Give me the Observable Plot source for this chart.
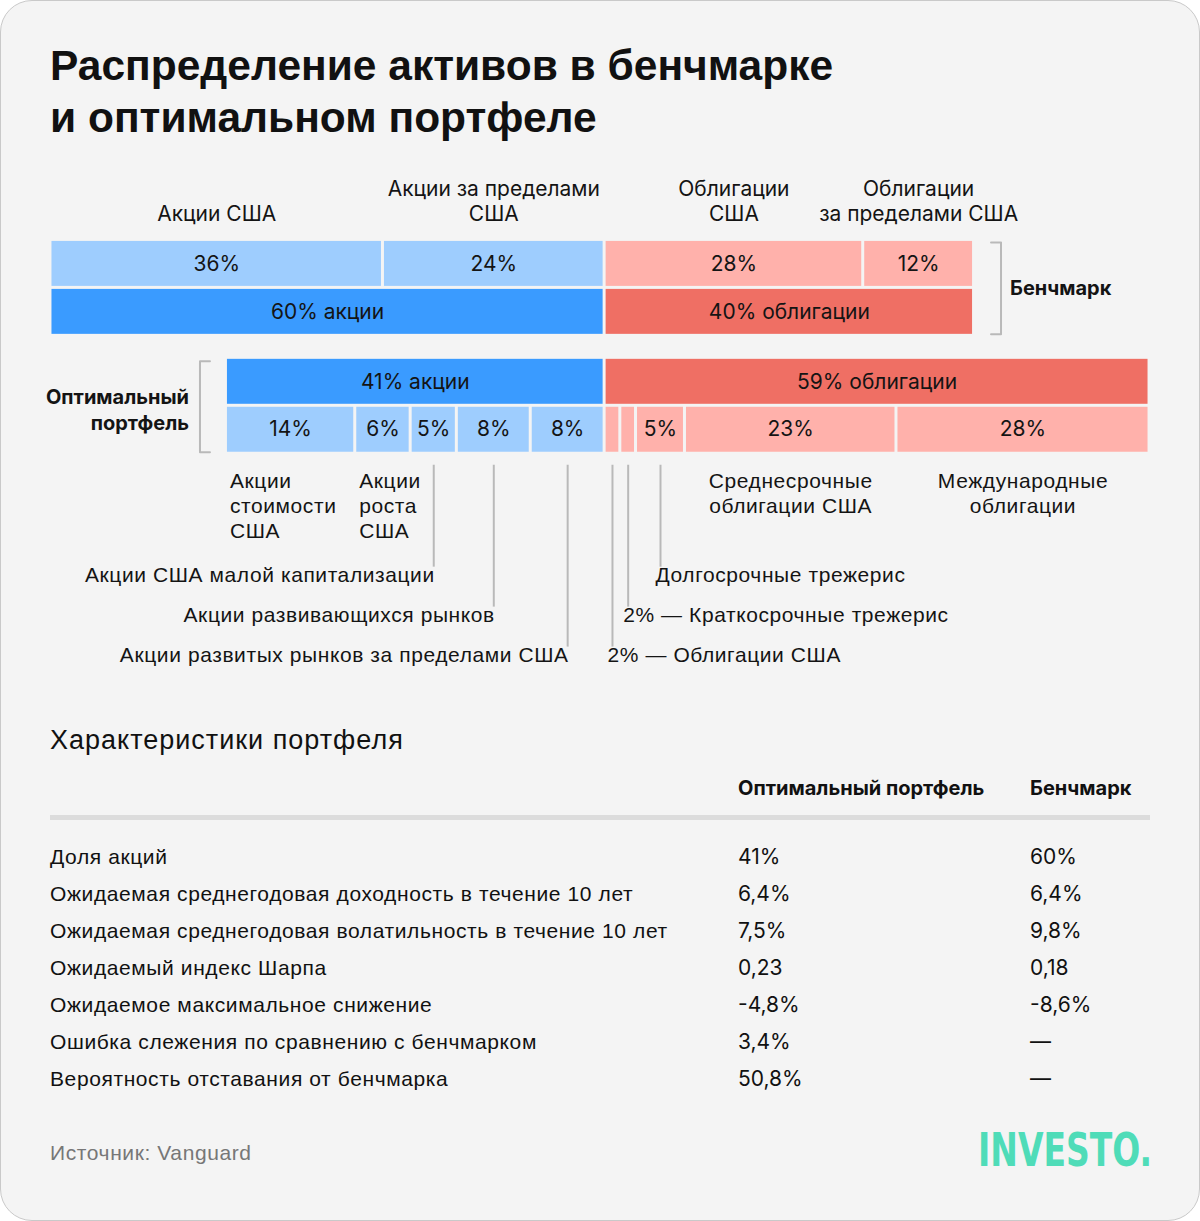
<!DOCTYPE html>
<html><head><meta charset="utf-8">
<script src="https://cdn.jsdelivr.net/npm/d3@7"></script>
<script src="https://cdn.jsdelivr.net/npm/@observablehq/plot@0.6"></script>
<style>
body{margin:0;background:#fff;}
#card{position:relative;width:1200px;height:1221px;box-sizing:border-box;border:1px solid #c9c9c9;border-radius:32px;background:#f4f4f4;overflow:hidden;font-family:"Liberation Sans",Arial,sans-serif;color:#111;}
.abs{position:absolute;white-space:nowrap;}
#title{left:49px;top:39px;font-size:42.5px;line-height:52px;font-weight:700;}
#chart{position:absolute;left:-1px;top:159px;}
#subhead{left:49px;top:723px;font-size:27px;line-height:32px;letter-spacing:1px;}
.hdr{font-family:Inter,sans-serif;font-weight:700;font-size:20px;line-height:24px;}
.cell{font-size:21px;line-height:24px;letter-spacing:0.6px;}
.num{font-family:Inter,sans-serif;letter-spacing:0;}
#rule{position:absolute;left:49px;top:814px;width:1100px;height:5px;background:#dcdcdc;}
#source{left:49px;top:1140px;font-size:21px;line-height:24px;letter-spacing:0.6px;color:#777;}
#logo{position:absolute;left:974px;top:1120px;}
.ann text{letter-spacing:0.6px;}
</style>
</head><body>
<div id="card">
  <div id="title" class="abs">Распределение активов в бенчмарке<br>и оптимальном портфеле</div>
  <div id="chart"></div>
  <div id="subhead" class="abs">Характеристики портфеля</div>
  <div id="table"></div>
  <div id="rule"></div>
  <div id="source" class="abs">Источник: Vanguard</div>
  <svg id="logo" width="224" height="60"><text x="3" y="45" font-family="'DejaVu Sans Condensed','DejaVu Sans',sans-serif" font-weight="700" font-size="46" fill="#4fdcb8" textLength="174" lengthAdjust="spacingAndGlyphs">INVESTO.</text></svg>
</div>
<script>
// ---------- data ----------
const benchCategories = ["Акции США", "Акции за пределами\nСША", "Облигации\nСША", "Облигации\nза пределами США"];
const benchValues = [36, 24, 28, 12];
const benchKinds = ["stock", "stock", "bond", "bond"];

const groupWords = ["акции", "облигации"];
const benchTotals = [60, 40];
const optTotals = [41, 59];

const optStockNames = ["Акции\nстоимости\nСША", "Акции\nроста\nСША", "Акции США малой капитализации", "Акции развивающихся рынков", "Акции развитых рынков за пределами США"];
const optStockValues = [14, 6, 5, 8, 8];

const optBondNames = ["Облигации США", "Краткосрочные трежерис", "Долгосрочные трежерис", "Среднесрочные\nоблигации США", "Международные\nоблигации"];
const optBondValues = [1.7, 1.7, 5.3, 22.9, 27.4];   // widths
const optBondLabels = ["2%", "2%", "5%", "23%", "28%"];

const charLabels = ["Доля акций", "Ожидаемая среднегодовая доходность в течение 10 лет", "Ожидаемая среднегодовая волатильность в течение 10 лет", "Ожидаемый индекс Шарпа", "Ожидаемое максимальное снижение", "Ошибка слежения по сравнению с бенчмарком", "Вероятность отставания от бенчмарка"];
const charOptimal = ["41%", "6,4%", "7,5%", "0,23", "-4,8%", "3,4%", "50,8%"];
const charBench = ["60%", "6,4%", "9,8%", "0,18", "-8,6%", "—", "—"];
const colHeaders = ["Оптимальный портфель", "Бенчмарк"];

// ---------- styles / layout ----------
const C = {stockLight: "#9ecdfe", stock: "#3a9bff", bondLight: "#ffb1ab", bond: "#ef6f64", ink: "#141414", guide: "#b9b9b9"};
const W = 1200, H = 530;
const X0 = -60, X1 = 59;
const px = d3.scaleLinear([X0, X1], [50, 1150]);
const shift = (v, d) => px.invert(px(v) + d);
const rows = {bTop: [81, 126], bBot: [129, 174], oTop: [199, 244], oBot: [247, 292]};
const LINE = 25;

function stack(vals, start) { let s = start; return vals.map(v => { const a = s; s += v; return [a, s]; }); }

const segs = [];
stack(benchValues, -benchTotals[0]).forEach(([a, b], i) => segs.push({x1: a, x2: b, y1: rows.bTop[0], y2: rows.bTop[1], fill: benchKinds[i] === "stock" ? C.stockLight : C.bondLight, label: benchValues[i] + "%"}));
stack(benchTotals, -benchTotals[0]).forEach(([a, b], i) => segs.push({x1: a, x2: b, y1: rows.bBot[0], y2: rows.bBot[1], fill: i === 0 ? C.stock : C.bond, label: `${benchTotals[i]}% ${groupWords[i]}`}));
stack(optTotals, -optTotals[0]).forEach(([a, b], i) => segs.push({x1: a, x2: b, y1: rows.oTop[0], y2: rows.oTop[1], fill: i === 0 ? C.stock : C.bond, label: `${optTotals[i]}% ${groupWords[i]}`}));
const stockSegs = stack(optStockValues, -optTotals[0]);
stockSegs.forEach(([a, b], i) => segs.push({x1: a, x2: b, y1: rows.oBot[0], y2: rows.oBot[1], fill: C.stockLight, label: optStockValues[i] + "%"}));
const bondSegs = stack(optBondValues, 0);
bondSegs.forEach(([a, b], i) => segs.push({x1: a, x2: b, y1: rows.oBot[0], y2: rows.oBot[1], fill: C.bondLight, label: i < 2 ? "" : optBondLabels[i]}));

// category labels above benchmark
const catBase = 53;
const cats = stack(benchValues, -benchTotals[0]).map(([a, b], i) => {
  const n = benchCategories[i].split("\n").length;
  return {x: (a + b) / 2, y: catBase - (n - 1) * LINE / 2, text: benchCategories[i]};
});

// leader-line annotations
const tierY = t => 415 + 40 * t;
const stockTiers = [null, null, 0, 1, 2];
const bondTiers = [2, 1, 0, null, null];
const leaders = [], rightLabels = [], leftLabels = [], blockLabels = [], centerLabels = [];
stockSegs.forEach(([a, b], i) => {
  const t = stockTiers[i];
  if (t === null) {
    const n = optStockNames[i].split("\n").length;
    blockLabels.push({x: a, y: 345 - (n - 3) * LINE / 2, text: optStockNames[i]});
  } else {
    leaders.push({x: (a + b) / 2, y1: 305, y2: tierY(t) - 8});
    rightLabels.push({x: (a + b) / 2, y: tierY(t), text: optStockNames[i]});
  }
});
bondSegs.forEach(([a, b], i) => {
  const t = bondTiers[i];
  if (t === null) {
    const n = optBondNames[i].split("\n").length;
    centerLabels.push({x: (a + b) / 2, y: 345 - (n - 1) * LINE / 2, text: optBondNames[i]});
  } else {
    leaders.push({x: (a + b) / 2, y1: 305, y2: tierY(t) - 8});
    leftLabels.push({x: (a + b) / 2, y: tierY(t), text: (i < 2 ? optBondLabels[i] + " — " : "") + optBondNames[i]});
  }
});

// brackets
const bEnd = benchTotals[1], oStart = -optTotals[0];
const benchBracket = [
  {x: shift(bEnd, 17), y: rows.bTop[0] + 1}, {x: shift(bEnd, 27), y: rows.bTop[0] + 1},
  {x: shift(bEnd, 27), y: rows.bBot[1]}, {x: shift(bEnd, 17), y: rows.bBot[1]}
];
const optBracket = [
  {x: shift(oStart, -16), y: rows.oTop[0] + 2}, {x: shift(oStart, -26), y: rows.oTop[0] + 2},
  {x: shift(oStart, -26), y: rows.oBot[1]}, {x: shift(oStart, -16), y: rows.oBot[1]}
];
const sideLabels = [
  {x: shift(bEnd, 36), y: (rows.bTop[0] + rows.bBot[1]) / 2 + 1, text: "Бенчмарк"},
  {x: shift(oStart, -37), y: (rows.oTop[0] + rows.oBot[1]) / 2 + 3, text: "Оптимальный\nпортфель"}
];

const font = "Inter, sans-serif";
const font2 = "'Liberation Sans', Arial, sans-serif";
const ann = {fontSize: 21, fontFamily: font2, fill: C.ink, className: "ann"};
const chart = Plot.plot({
  width: W, height: H,
  margin: 0,
  x: {domain: [X0, X1], range: [50, 1150], axis: null},
  y: {domain: [0, H], range: [0, H], axis: null},
  color: {type: "identity"},
  style: {background: "transparent", overflow: "visible"},
  marks: [
    Plot.rect(segs, {x1: "x1", x2: "x2", y1: "y1", y2: "y2", fill: "fill", insetLeft: 1.5, insetRight: 1.5}),
    Plot.text(segs, {x: d => (d.x1 + d.x2) / 2, y: d => (d.y1 + d.y2) / 2, text: "label", fontSize: 21, fontFamily: font, fill: C.ink}),
    Plot.text(cats, {x: "x", y: "y", text: "text", fontSize: 21, fontFamily: font, fill: C.ink, lineHeight: 1.19}),
    Plot.line(benchBracket, {x: "x", y: "y", stroke: C.guide, strokeWidth: 2}),
    Plot.line(optBracket, {x: "x", y: "y", stroke: C.guide, strokeWidth: 2}),
    Plot.text(sideLabels.slice(0, 1), {x: "x", y: "y", text: "text", textAnchor: "start", fontSize: 20, fontWeight: 700, fontFamily: font, fill: C.ink}),
    Plot.text(sideLabels.slice(1), {x: "x", y: "y", text: "text", textAnchor: "end", fontSize: 20, fontWeight: 700, fontFamily: font, fill: C.ink, lineHeight: 1.28}),
    Plot.ruleX(leaders, {x: "x", y1: "y1", y2: "y2", stroke: C.guide, strokeWidth: 2}),
    Plot.text(rightLabels, {x: "x", y: "y", text: "text", textAnchor: "end", dx: 1, ...ann}),
    Plot.text(leftLabels, {x: "x", y: "y", text: "text", textAnchor: "start", dx: -5, ...ann}),
    Plot.text(blockLabels, {x: "x", y: "y", text: "text", textAnchor: "start", dx: 4, lineHeight: 1.19, ...ann}),
    Plot.text(centerLabels, {x: "x", y: "y", text: "text", textAnchor: "middle", lineHeight: 1.19, ...ann})
  ]
});
chart.querySelectorAll("g[font-family]").forEach(g => { if (g.getAttribute("font-family") === font2) g.style.letterSpacing = "0.6px"; });
document.getElementById("chart").append(chart);

// ---------- table ----------
const table = document.getElementById("table");
const colX = [49, 737, 1029];
function cell(txt, x, yc, cls) {
  const d = document.createElement("div");
  d.className = "abs " + cls;
  d.textContent = txt;
  d.style.left = x + "px";
  d.style.top = (yc - 12) + "px";
  table.append(d);
}
colHeaders.forEach((h, i) => cell(h, colX[i + 1], 787, "hdr"));
charLabels.forEach((lab, i) => {
  const yc = 856 + 37 * i;
  cell(lab, colX[0], yc, "cell");
  cell(charOptimal[i], colX[1], yc, "cell num");
  cell(charBench[i], colX[2], yc, "cell num");
});
</script>
</body></html>
